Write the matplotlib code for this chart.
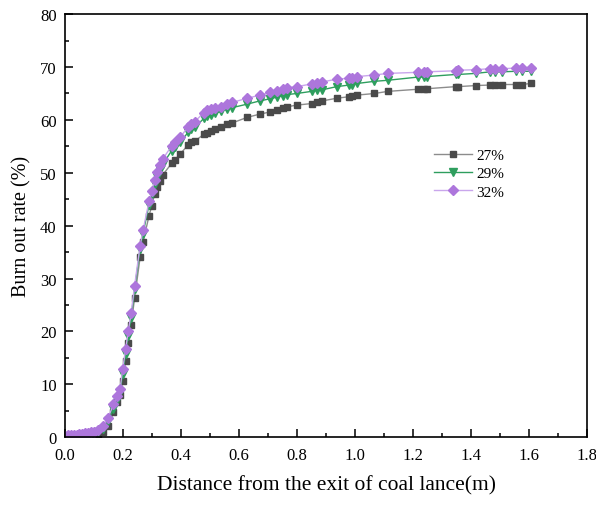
import matplotlib
matplotlib.use('Agg')
import matplotlib.pyplot as plt
from matplotlib.ticker import MultipleLocator

plt.rcParams['font.family'] = ['Liberation Serif', 'DejaVu Serif']

# distance from lance exit (m)
x = [0.0, 0.01, 0.02, 0.03, 0.04, 0.05, 0.06, 0.07, 0.08, 0.09, 0.10,
     0.115, 0.132, 0.149, 0.167, 0.180, 0.190, 0.199, 0.209, 0.218, 0.228,
     0.240, 0.259, 0.269, 0.290, 0.299, 0.309, 0.319, 0.328, 0.337,
     0.368, 0.379, 0.398, 0.425, 0.434, 0.448,
     0.479, 0.489, 0.502, 0.517, 0.538, 0.557, 0.575,
     0.629, 0.672, 0.707, 0.730, 0.753, 0.767, 0.799,
     0.850, 0.868, 0.887, 0.937,
     0.980, 0.989, 1.008, 1.067, 1.113,
     1.216, 1.239, 1.247,
     1.348, 1.356, 1.416,
     1.466, 1.483, 1.506, 1.555, 1.575, 1.606]

rate_27 = [0.0, 0.0, 0.0, 0.0, 0.0, 0.05, 0.05, 0.1, 0.1, 0.15, 0.2,
           0.5, 0.9, 2.1, 4.7, 6.6, 7.9, 10.6, 14.4, 17.9, 21.2,
           26.3, 34.0, 36.9, 41.9, 43.7, 46.0, 47.3, 48.5, 49.6,
           51.8, 52.4, 53.6, 55.3, 55.8, 56.0,
           57.3, 57.6, 58.0, 58.3, 58.7, 59.2, 59.4,
           60.5, 61.1, 61.5, 61.8, 62.3, 62.5, 62.8,
           63.1, 63.4, 63.6, 64.1,
           64.4, 64.5, 64.7, 65.0, 65.4,
           65.8, 65.9, 65.9,
           66.3, 66.3, 66.5,
           66.6, 66.6, 66.7, 66.7, 66.7, 66.9]

rate_29 = [0.1, 0.1, 0.15, 0.2, 0.2, 0.25, 0.3, 0.35, 0.4, 0.5, 0.6,
           1.0, 1.6, 3.0, 5.4, 7.0, 8.5, 12.0, 15.8, 19.2, 22.6,
           28.0, 35.6, 38.5, 44.0, 45.9, 47.8, 49.3, 50.5, 51.6,
           54.2, 54.9, 55.8, 57.7, 58.2, 58.6,
           60.3, 60.7, 61.0, 61.3, 61.6, 62.0, 62.3,
           63.0, 63.6, 64.0, 64.3, 64.6, 64.8, 65.0,
           65.4, 65.6, 65.7, 66.3,
           66.6, 66.7, 66.9, 67.3, 67.5,
           68.1, 68.1, 68.2,
           68.6, 68.6, 68.8,
           69.1, 69.1, 69.1, 69.2, 69.2, 69.2]

rate_32 = [0.3, 0.35, 0.4, 0.45, 0.5, 0.55, 0.6, 0.7, 0.8, 0.9, 1.0,
           1.3, 2.1, 3.7, 6.2, 7.7, 9.1, 12.9, 16.6, 20.0, 23.4,
           28.6, 36.2, 39.1, 44.6, 46.6, 48.7, 50.2, 51.5, 52.6,
           55.1, 55.8, 56.8, 58.7, 59.3, 59.7,
           61.4, 61.8, 62.0, 62.3, 62.5, 63.0, 63.3,
           64.1, 64.7, 65.2, 65.5, 65.9, 66.1, 66.3,
           66.8, 67.0, 67.2, 67.7,
           67.9, 68.0, 68.2, 68.5, 68.8,
           69.0, 69.0, 69.1,
           69.3, 69.4, 69.5,
           69.7, 69.7, 69.7, 69.8, 69.8, 69.9]

fig = plt.figure(figsize=(5.96, 5.06), dpi=100)
ax = fig.add_axes([0.109, 0.134, 0.876, 0.836])

ax.plot(x, rate_27, color='#8c8c8c', lw=1.0, marker='s', ms=4.8,
        mfc='#4a4a4a', mec='#4a4a4a', label='27%')
ax.plot(x, rate_29, color='#2e9e5e', lw=1.0, marker='v', ms=5.3,
        mfc='#2e9e5e', mec='#2e9e5e', label='29%')
ax.plot(x, rate_32, color='#c9a6ec', lw=1.0, marker='D', ms=4.8,
        mfc='#ad76dc', mec='#ad76dc', label='32%')

ax.set_xlim(0, 1.8)
ax.set_ylim(0, 80)
ax.xaxis.set_major_locator(MultipleLocator(0.2))
ax.xaxis.set_minor_locator(MultipleLocator(0.1))
ax.yaxis.set_major_locator(MultipleLocator(10))
ax.yaxis.set_minor_locator(MultipleLocator(5))
ax.tick_params(which='both', direction='in', top=False, right=False,
               labelsize=12)
ax.tick_params(which='major', length=6, width=1.1)
ax.tick_params(which='minor', length=3, width=1.1)
ax.tick_params(axis='x', which='major', pad=7)
ax.tick_params(axis='y', which='major', pad=6)
for s in ax.spines.values():
    s.set_linewidth(1.2)

ax.set_xlabel('Distance from the exit of coal lance(m)', fontsize=15.5,
              labelpad=9)
ax.set_ylabel('Burn out rate (%)', fontsize=14.5, labelpad=6)

ax.legend(loc='upper left', bbox_to_anchor=(0.68, 0.715), frameon=False,
          fontsize=11, handlelength=2.5, handletextpad=0.3, labelspacing=0.3)

fig.savefig('out.png', dpi=100)
